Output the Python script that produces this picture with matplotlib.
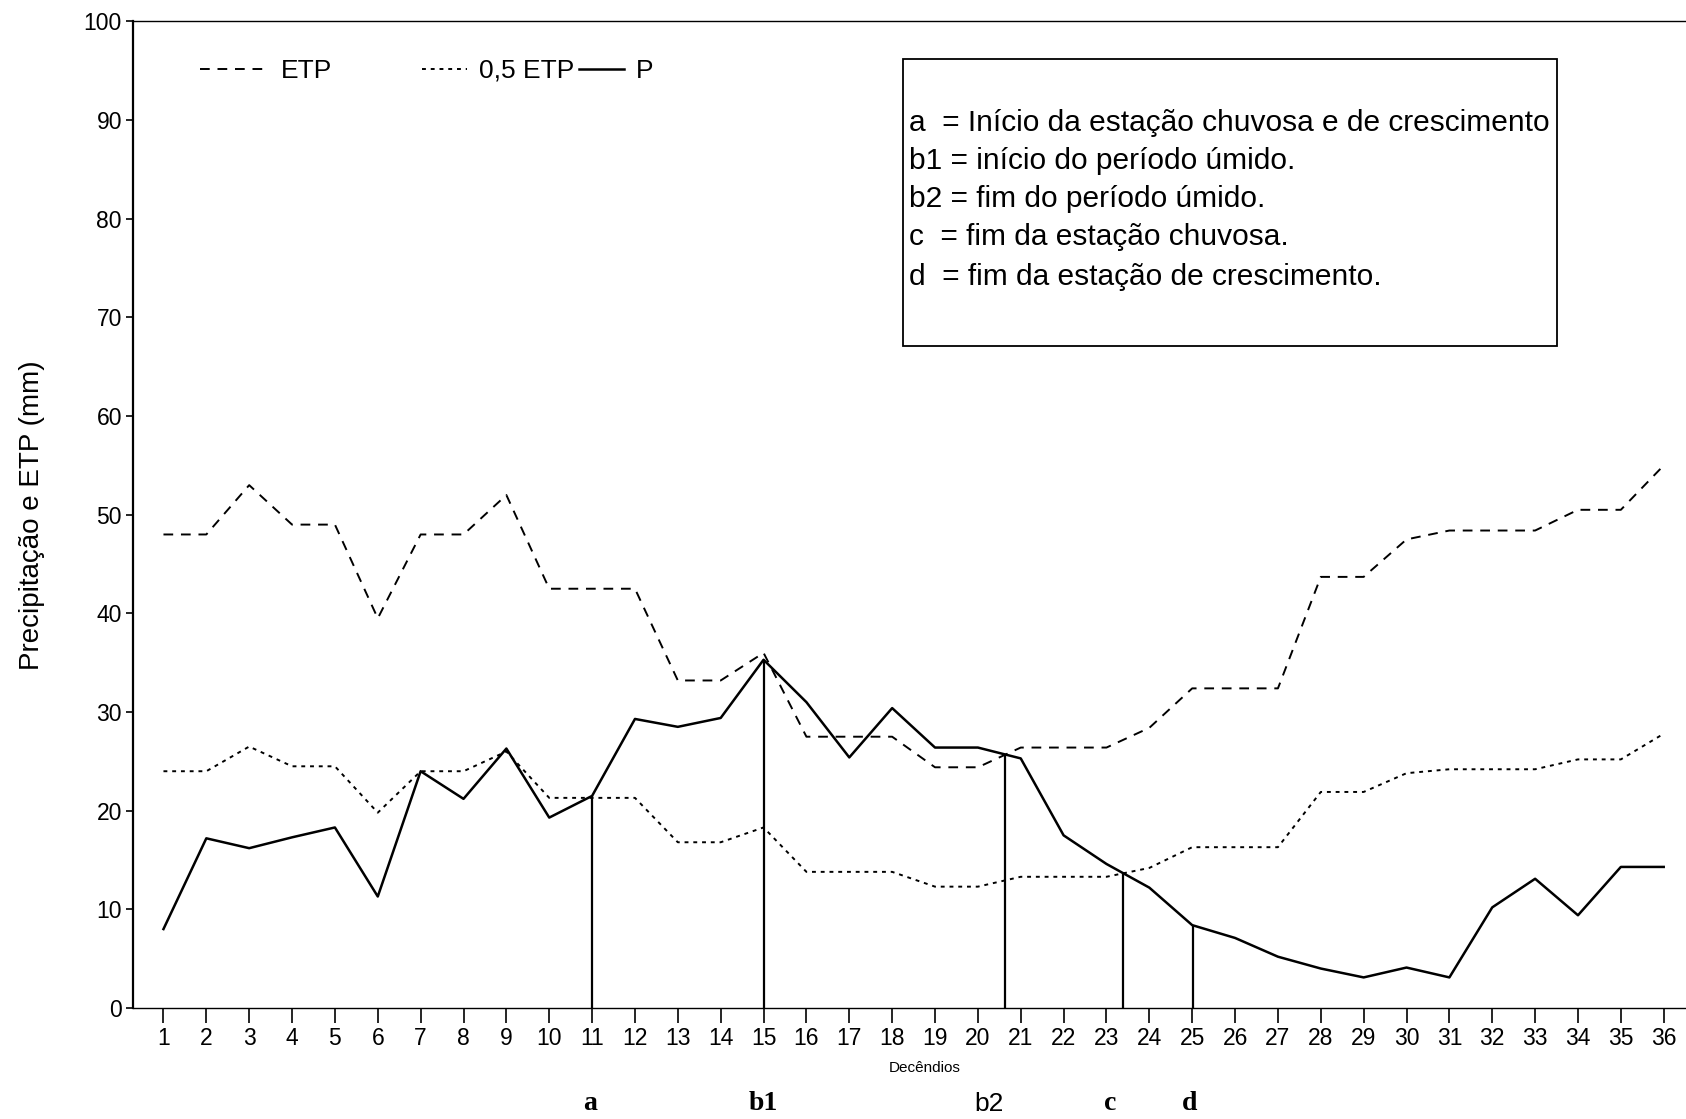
import numpy as np
import matplotlib.pyplot as plt
from matplotlib.patches import Rectangle

plt.rcParams['font.family'] = ['Liberation Sans', 'DejaVu Sans']

# dados (decêndios 1..36)
decendios = np.arange(1, 37)
etp = [48, 48, 53, 49, 49, 39.5, 48, 48, 52, 42.5, 42.5, 42.5, 33.2, 33.2, 36,
       27.5, 27.5, 27.5, 24.4, 24.4, 26.4, 26.4, 26.4, 28.4, 32.4, 32.4, 32.4,
       43.7, 43.7, 47.5, 48.4, 48.4, 48.4, 50.5, 50.5, 55.0]
meia_etp = [24, 24, 26.5, 24.5, 24.5, 19.8, 24, 24, 26, 21.3, 21.3, 21.3, 16.8,
            16.8, 18.3, 13.8, 13.8, 13.8, 12.3, 12.3, 13.3, 13.3, 13.3, 14.2,
            16.3, 16.3, 16.3, 21.9, 21.9, 23.8, 24.2, 24.2, 24.2, 25.2, 25.2, 27.8]
precip = [8, 17.2, 16.2, 17.3, 18.3, 11.3, 24, 21.2, 26.3, 19.3, 21.5, 29.3,
          28.5, 29.4, 35.3, 31, 25.4, 30.4, 26.4, 26.4, 25.3, 17.5, 14.6, 12.2,
          8.4, 7.1, 5.2, 4, 3.1, 4.1, 3.1, 10.2, 13.1, 9.4, 14.3, 14.3]

# marcos do período chuvoso
marcos = ['a', 'b1', 'b2', 'c', 'd']
marcos_x = [11, 15, 20.64, 23.38, 25.03]
legenda_marcos = [
    'a  = Início da estação chuvosa e de crescimento',
    'b1 = início do período úmido.',
    'b2 = fim do período úmido.',
    'c  = fim da estação chuvosa.',
    'd  = fim da estação de crescimento.',
]

fig = plt.figure(figsize=(16.86, 11.19), dpi=100)
ax = fig.add_axes([0.0789, 0.0992, 0.9211, 0.8816])

l_etp, = ax.plot(decendios, etp, color='black', lw=1.4, ls=(0, (5, 4)), label='ETP')
l_meia, = ax.plot(decendios, meia_etp, color='black', lw=1.4, ls=(0, (2, 2.5)), label='0,5 ETP')
l_p, = ax.plot(decendios, precip, color='black', lw=1.8, ls='-', label='P')

# linhas verticais até a curva de P
alturas = np.interp(marcos_x, decendios, precip)
ax.vlines(marcos_x, 0, alturas, color='black', lw=1.6)

# rótulos dos marcos abaixo do eixo
dx = [-0.05, 0.0, -0.38, -0.3, -0.1]
for nome, x, d in zip(marcos, marcos_x, dx):
    if nome == 'b2':
        ax.text(x + d, -0.097, nome, transform=ax.get_xaxis_transform(),
                ha='center', va='center', fontsize=19)
    else:
        ax.text(x + d, -0.097, nome, transform=ax.get_xaxis_transform(),
                ha='center', va='center', fontsize=20, fontweight='bold',
                family='Liberation Serif')

ax.set_xlim(0.29, 36.52)
ax.set_ylim(0, 100)
ax.set_xticks(decendios)
ax.set_yticks(np.arange(0, 101, 10))
ax.tick_params(axis='x', direction='out', length=11, width=1.2, labelsize=16.5, pad=3)
ax.tick_params(axis='y', direction='out', length=5, width=1.2, labelsize=16.5, pad=3)
ax.spines['right'].set_visible(False)
ax.spines['top'].set_linewidth(1.0)
ax.spines['left'].set_linewidth(1.6)
ax.spines['bottom'].set_linewidth(1.0)

ax.set_ylabel('Precipitação e ETP (mm)', fontsize=20, labelpad=28)
ax.text(18.77, -0.061, 'Decêndios', transform=ax.get_xaxis_transform(),
        ha='center', va='center', fontsize=11)

# legenda em duas partes (espaçamentos diferentes no original)
leg1 = ax.legend(handles=[l_etp], loc='center left', bbox_to_anchor=(0.0431, 0.95),
                 frameon=False, fontsize=19, handlelength=2.4, handletextpad=0.65,
                 borderpad=0, borderaxespad=0)
ax.add_artist(leg1)
ax.legend(handles=[l_meia, l_p], loc='center left', bbox_to_anchor=(0.186, 0.95),
          ncol=2, frameon=False, fontsize=19, handlelength=1.7, handletextpad=0.45,
          columnspacing=0.2, borderpad=0, borderaxespad=0)

# caixa com a descrição dos marcos
ax.add_patch(Rectangle((0.496, 0.671), 0.421, 0.291, transform=ax.transAxes,
                       fill=False, edgecolor='black', lw=1.3))
linhas_y = [0.8975, 0.8585, 0.8201, 0.782, 0.741]
for txt, y in zip(legenda_marcos, linhas_y):
    ax.text(0.4995, y, txt, transform=ax.transAxes, ha='left', va='center',
            fontsize=21.5)

fig.savefig('out.png', dpi=100)
